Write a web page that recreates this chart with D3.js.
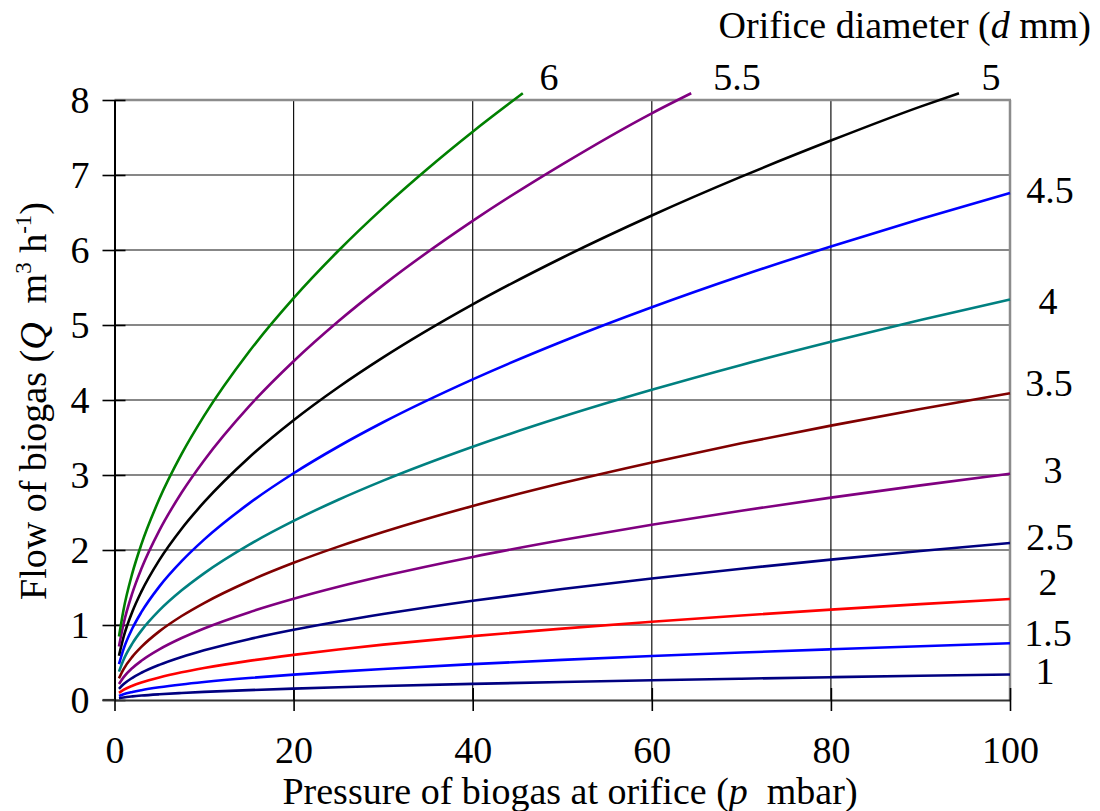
<!DOCTYPE html>
<html>
<head>
<meta charset="utf-8">
<script src="https://cdn.jsdelivr.net/npm/d3@7"></script>
<style>
  html, body { margin: 0; padding: 0; background: #fff; }
  svg { display: block; }
  text { font-family: "Liberation Serif", "Times New Roman", serif; fill: #000; }
</style>
</head>
<body>
<svg id="chart" width="1100" height="811"></svg>
<script>
// ---- data ----
const pressure   = [0.5, 1, 2, 3, 5, 7.5, 10, 15, 20, 25, 30, 40, 50, 60, 70, 80, 90, 100];
const pressure5  = [0.5, 1, 2, 3, 5, 7.5, 10, 15, 20, 25, 30, 40, 50, 60, 70, 80, 90, 94.3];
const pressure55 = [0.5, 1, 2, 3, 5, 7.5, 10, 15, 20, 25, 30, 40, 50, 60, 64.4];
const pressure6  = [0.5, 1, 2, 3, 5, 7.5, 10, 15, 20, 25, 30, 35, 40, 45.6];

const flow1   = [0.024, 0.034, 0.048, 0.059, 0.076, 0.093, 0.108, 0.132, 0.152, 0.170, 0.186, 0.215, 0.240, 0.263, 0.284, 0.304, 0.323, 0.340];
const flow15  = [0.053, 0.076, 0.107, 0.131, 0.169, 0.207, 0.239, 0.293, 0.338, 0.378, 0.414, 0.478, 0.535, 0.586, 0.633, 0.676, 0.717, 0.756];
const flow2   = [0.095, 0.135, 0.190, 0.233, 0.301, 0.369, 0.426, 0.522, 0.602, 0.674, 0.738, 0.852, 0.952, 1.043, 1.127, 1.205, 1.278, 1.347];
const flow25  = [0.148, 0.209, 0.296, 0.363, 0.468, 0.573, 0.662, 0.811, 0.936, 1.047, 1.146, 1.324, 1.480, 1.621, 1.751, 1.872, 1.986, 2.093];
const flow3   = [0.213, 0.302, 0.427, 0.523, 0.675, 0.826, 0.954, 1.168, 1.349, 1.509, 1.652, 1.908, 2.133, 2.337, 2.524, 2.698, 2.862, 3.017];
const flow35  = [0.289, 0.409, 0.578, 0.708, 0.915, 1.120, 1.293, 1.584, 1.829, 2.045, 2.240, 2.587, 2.892, 3.168, 3.422, 3.658, 3.880, 4.090];
const flow4   = [0.378, 0.534, 0.755, 0.925, 1.194, 1.462, 1.689, 2.068, 2.388, 2.670, 2.925, 3.377, 3.776, 4.136, 4.468, 4.776, 5.066, 5.340];
const flow45  = [0.478, 0.676, 0.956, 1.171, 1.512, 1.851, 2.138, 2.618, 3.023, 3.380, 3.703, 4.275, 4.780, 5.236, 5.656, 6.046, 6.413, 6.760];
const flow5   = [0.590, 0.834, 1.179, 1.445, 1.865, 2.284, 2.637, 3.230, 3.730, 4.170, 4.568, 5.275, 5.897, 6.460, 6.978, 7.459, 7.912, 8.090];
const flow55  = [0.714, 1.010, 1.428, 1.749, 2.258, 2.766, 3.194, 3.912, 4.517, 5.050, 5.532, 6.388, 7.142, 7.823, 8.090];
const flow6   = [0.847, 1.198, 1.694, 2.075, 2.679, 3.281, 3.788, 4.640, 5.358, 5.990, 6.562, 7.087, 7.577, 8.090];

const diameters = ["1", "1.5", "2", "2.5", "3", "3.5", "4", "4.5", "5", "5.5", "6"];
const colors    = ["#000080", "#0000FF", "#FF0000", "#000080", "#800080", "#800000", "#008080", "#0000FF", "#000000", "#800080", "#008000"];
const xTicks = [0, 20, 40, 60, 80, 100];
const yTicks = [0, 1, 2, 3, 4, 5, 6, 7, 8];

const seriesList = [
  { d: "1",   p: pressure,   q: flow1 },
  { d: "1.5", p: pressure,   q: flow15 },
  { d: "2",   p: pressure,   q: flow2 },
  { d: "2.5", p: pressure,   q: flow25 },
  { d: "3",   p: pressure,   q: flow3 },
  { d: "3.5", p: pressure,   q: flow35 },
  { d: "4",   p: pressure,   q: flow4 },
  { d: "4.5", p: pressure,   q: flow45 },
  { d: "5",   p: pressure5,  q: flow5 },
  { d: "5.5", p: pressure55, q: flow55 },
  { d: "6",   p: pressure6,  q: flow6 }
];

// label positions (layout only)
const labelPos = {
  "6":   [549, 77],  "5.5": [737, 77],  "5":   [991, 77],
  "4.5": [1050, 190], "4": [1048, 301], "3.5": [1049, 383],
  "3":   [1053, 470], "2.5": [1050, 537], "2": [1048, 582],
  "1.5": [1048, 633], "1": [1045, 671]
};

// ---- drawing ----
const FS = 38;
const svg = d3.select("#chart");
const L = 114.5, R = 1010, T = 100, B = 700;
const x = d3.scaleLinear().domain([0, 100]).range([L, R]);
const y = d3.scaleLinear().domain([0, 8]).range([B, T]);
const color = d3.scaleOrdinal().domain(diameters).range(colors);

// grid
const grid = svg.append("g");
grid.selectAll("line.h").data(yTicks.filter(v => v > 0 && v < 8)).enter().append("line")
  .attr("x1", L).attr("x2", R).attr("y1", d => y(d)).attr("y2", d => y(d))
  .attr("stroke", "#111").attr("stroke-width", 1.2);
grid.selectAll("line.v").data(xTicks.filter(v => v > 0 && v < 100)).enter().append("line")
  .attr("y1", T).attr("y2", B).attr("x1", d => x(d)).attr("x2", d => x(d))
  .attr("stroke", "#111").attr("stroke-width", 1.2);

// frame (top & right, gray)
svg.append("line").attr("x1", L).attr("x2", R + 1).attr("y1", T).attr("y2", T)
  .attr("stroke", "#8c8c8c").attr("stroke-width", 2.5);
svg.append("line").attr("x1", R).attr("x2", R).attr("y1", T).attr("y2", B)
  .attr("stroke", "#8c8c8c").attr("stroke-width", 2.5);

// axes
const yAxis = d3.axisLeft(y).tickValues(yTicks).tickSize(0).tickFormat(d3.format("d"));
const gy = svg.append("g").attr("transform", `translate(${L},0)`).call(yAxis);
gy.select(".domain").attr("stroke", "#000").attr("stroke-width", 2);
gy.selectAll(".tick text").attr("x", -25).attr("dy", "0.34em").attr("font-size", FS)
  .style("font-family", '"Liberation Serif", "Times New Roman", serif');
gy.selectAll(".tick").append("line").attr("x1", -12).attr("x2", 11).attr("stroke", "#000").attr("stroke-width", 1.6);

const xAxis = d3.axisBottom(x).tickValues(xTicks).tickSize(0).tickFormat(d3.format("d"));
const gx = svg.append("g").attr("transform", `translate(0,${B})`).call(xAxis);
gx.select(".domain").attr("stroke", "#333").attr("stroke-width", 2.2);
gx.selectAll(".tick text").attr("y", 63).attr("dy", 0).attr("font-size", FS)
  .style("font-family", '"Liberation Serif", "Times New Roman", serif');
gx.selectAll(".tick").append("line").attr("y1", -12).attr("y2", 11).attr("stroke", "#000").attr("stroke-width", 1.6);
svg.append("line").attr("x1", L - 12).attr("x2", L).attr("y1", B).attr("y2", B).attr("stroke", "#333").attr("stroke-width", 2.2);

// curves
const line = d3.line().x(d => x(d[0])).y(d => y(d[1])).curve(d3.curveMonotoneX);
svg.append("g").selectAll("path").data(seriesList).enter().append("path")
  .attr("d", s => line(s.p.map((p, i) => [p, s.q[i]])))
  .attr("fill", "none")
  .attr("stroke", s => color(s.d))
  .attr("stroke-width", 2.6)
  .attr("stroke-linejoin", "round");

// diameter labels
svg.append("g").selectAll("text").data(diameters).enter().append("text")
  .attr("x", d => labelPos[d][0]).attr("y", d => labelPos[d][1])
  .attr("dy", "0.34em").attr("text-anchor", "middle").attr("font-size", FS)
  .text(d => d);

// top-right title
const t = svg.append("text").attr("x", 1091).attr("y", 38).attr("text-anchor", "end").attr("font-size", FS);
t.append("tspan").text("Orifice diameter (");
t.append("tspan").attr("font-style", "italic").text("d");
t.append("tspan").text(" mm)");

// x title
const xt = svg.append("text").attr("x", 570).attr("y", 804).attr("text-anchor", "middle").attr("font-size", FS);
xt.append("tspan").text("Pressure of biogas at orifice (");
xt.append("tspan").attr("font-style", "italic").text("p");
xt.append("tspan").text("\u00a0 mbar)");

// y title
const yt = svg.append("text").attr("transform", "translate(46,401) rotate(-90)")
  .attr("text-anchor", "middle").attr("font-size", FS);
yt.append("tspan").text("Flow of biogas (");
yt.append("tspan").attr("font-style", "italic").text("Q");
yt.append("tspan").text("\u00a0 m");
yt.append("tspan").attr("font-size", 23).attr("dy", -15).text("3");
yt.append("tspan").attr("dy", 15).text("\u00a0h");
yt.append("tspan").attr("font-size", 23).attr("dy", -15).text("-1");
yt.append("tspan").attr("dy", 15).text(")");
</script>
</body>
</html>
